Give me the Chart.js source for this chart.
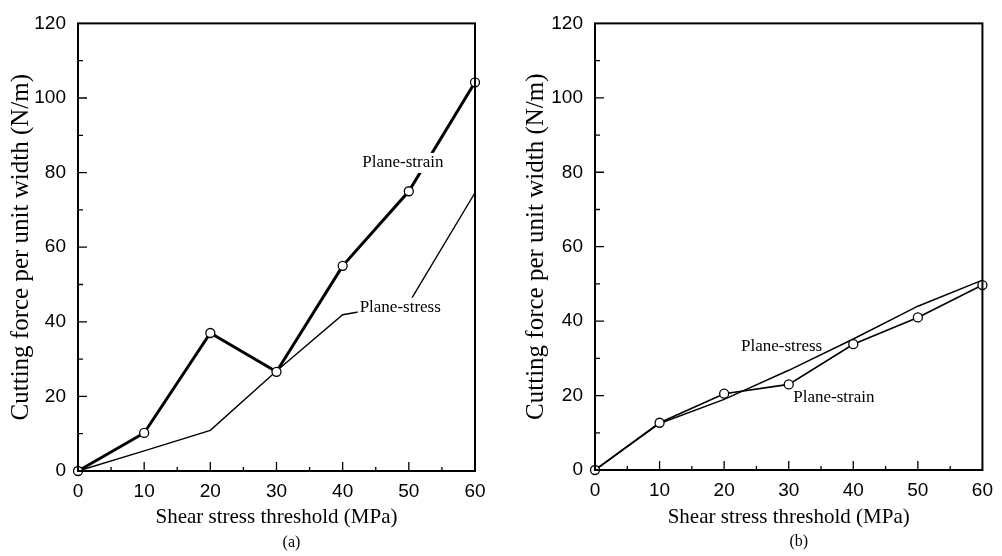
<!DOCTYPE html>
<html>
<head>
<meta charset="utf-8">
<script src="https://cdn.jsdelivr.net/npm/chart.js@4.4.1/dist/chart.umd.min.js"></script>
<style>
  body { margin: 0; background: #fff; }
  #wrap { position: relative; width: 1002px; height: 556px; overflow: hidden; }
  #chartA { position: absolute; left: 0; top: 0; }
  #chartB { position: absolute; left: 510px; top: 0; }
</style>
</head>
<body>
<div id="wrap">
  <canvas id="chartA" width="510" height="556"></canvas>
  <canvas id="chartB" width="492" height="556"></canvas>
</div>
<script>
// shear stress threshold (MPa)
const shearX = [0, 10, 20, 30, 40, 50, 60];

// (a) cutting force per unit width (N/m)
const strainA = [0, 10.2, 37, 26.6, 55, 75, 104.2];
const stressA = [0, 5.4, 10.9, 26.8, 41.9, 45, 74.6];

// (b)
const strainB = [0, 12.7, 20.5, 23, 33.8, 41, 49.7];
const stressB = [0, 12.5, 19, 26.8, 35.2, 44, 51];

const xTitle = 'Shear stress threshold (MPa)';
const yTitle = 'Cutting force per unit width (N/m)';
const panelNames = ['(a)', '(b)'];
const seriesNames = ['Plane-strain', 'Plane-stress'];

const serif = "'Liberation Serif', 'Times New Roman', serif";
const sans = "'Liberation Sans', Arial, sans-serif";

function pts(ys) {
    return shearX.map((x, i) => ({ x: x, y: ys[i] }));
}

// box round the plot + inward ticks
const frame = {
    id: 'frame',
    afterDraw(chart) {
        const { ctx, chartArea: a, scales: { x, y } } = chart;
        ctx.save();
        ctx.strokeStyle = '#000';
        ctx.lineWidth = 1.3;
        ctx.beginPath();
        for (let v = 5; v < 60; v += 5) {
            const px = x.getPixelForValue(v);
            const len = v % 10 ? 4 : 9;
            ctx.moveTo(px, a.bottom);
            ctx.lineTo(px, a.bottom - len);
        }
        for (let v = 10; v < 120; v += 10) {
            const py = y.getPixelForValue(v);
            const len = v % 20 ? 5 : 9;
            ctx.moveTo(a.left, py);
            ctx.lineTo(a.left + len, py);
        }
        ctx.stroke();
        ctx.lineWidth = 2;
        ctx.strokeRect(a.left, a.top, a.right - a.left, a.bottom - a.top);
        ctx.restore();
    }
};

// curve names inside the plot, and the (a)/(b) caption
const curveLabels = {
    id: 'curveLabels',
    afterDatasetsDraw(chart, args, opts) {
        const { ctx, chartArea: a, scales: { x, y } } = chart;
        ctx.save();
        ctx.font = '17px ' + serif;
        ctx.textAlign = 'center';
        ctx.textBaseline = 'middle';
        opts.items.forEach(it => {
            const px = x.getPixelForValue(it.x);
            const py = y.getPixelForValue(it.y);
            if (it.mask) {
                const w = ctx.measureText(it.text).width;
                ctx.fillStyle = '#fff';
                ctx.fillRect(px - w / 2 - 2, py - 10, w + 4, 20);
            }
            ctx.fillStyle = '#000';
            ctx.fillText(it.text, px, py);
        });
        ctx.font = '16px ' + serif;
        ctx.fillText(opts.caption, (a.left + a.right) / 2 + opts.captionShift, a.bottom + 72);
        ctx.restore();
    }
};

function makeChart(id, strain, stress, cfg) {
    return new Chart(document.getElementById(id), {
        type: 'line',
        data: {
            datasets: [
                {
                    label: seriesNames[0],
                    data: pts(strain),
                    borderColor: '#000',
                    borderWidth: cfg.strainWidth,
                    pointRadius: 4.5,
                    pointBorderWidth: 1.3,
                    pointBackgroundColor: '#fff',
                    pointBorderColor: '#000',
                    tension: 0,
                    clip: false
                },
                {
                    label: seriesNames[1],
                    data: pts(stress),
                    borderColor: '#000',
                    borderWidth: 1.4,
                    pointRadius: 0,
                    tension: 0,
                    clip: false
                }
            ]
        },
        options: {
            responsive: false,
            animation: false,
            layout: { padding: cfg.padding },
            plugins: {
                legend: { display: false },
                tooltip: { enabled: false },
                curveLabels: { items: cfg.labels, caption: cfg.caption, captionShift: cfg.captionShift }
            },
            scales: {
                x: {
                    type: 'linear',
                    min: 0,
                    max: 60,
                    grid: { display: false, drawTicks: false },
                    border: { display: false },
                    ticks: { stepSize: 10, color: '#000', padding: 9, maxRotation: 0, font: { family: sans, size: 19 } },
                    title: { display: true, text: xTitle, color: '#000', font: { family: serif, size: 21 }, padding: { top: 0, bottom: 26 } },
                    afterFit(s) { s.height = cfg.xHeight; }
                },
                y: {
                    min: 0,
                    max: 120,
                    grid: { display: false, drawTicks: false },
                    border: { display: false },
                    ticks: { stepSize: 20, color: '#000', padding: 12, font: { family: sans, size: 19 } },
                    title: { display: true, text: yTitle, color: '#000', font: { family: serif, size: 25 }, padding: { top: cfg.yTitlePad, bottom: 0 } },
                    afterFit(s) { s.width = cfg.yWidth; }
                }
            }
        },
        plugins: [frame, curveLabels]
    });
}

makeChart('chartA', strainA, stressA, {
    strainWidth: 3,
    padding: { top: 19, right: 35, left: 0, bottom: 0 },
    xHeight: 85,
    yWidth: 78,
    yTitlePad: 6,
    caption: panelNames[0],
    captionShift: 15,
    labels: [
        { text: seriesNames[0], x: 49.1, y: 82.6, mask: true },
        { text: seriesNames[1], x: 48.7, y: 43.8, mask: true }
    ]
});

makeChart('chartB', strainB, stressB, {
    strainWidth: 1.6,
    padding: { top: 18, right: 13, left: 0, bottom: 0 },
    xHeight: 86,
    yWidth: 85,
    yTitlePad: 11,
    caption: panelNames[1],
    captionShift: 10,
    labels: [
        { text: seriesNames[1], x: 28.9, y: 33.2, mask: false },
        { text: seriesNames[0], x: 37.0, y: 19.6, mask: false }
    ]
});
</script>
</body>
</html>
